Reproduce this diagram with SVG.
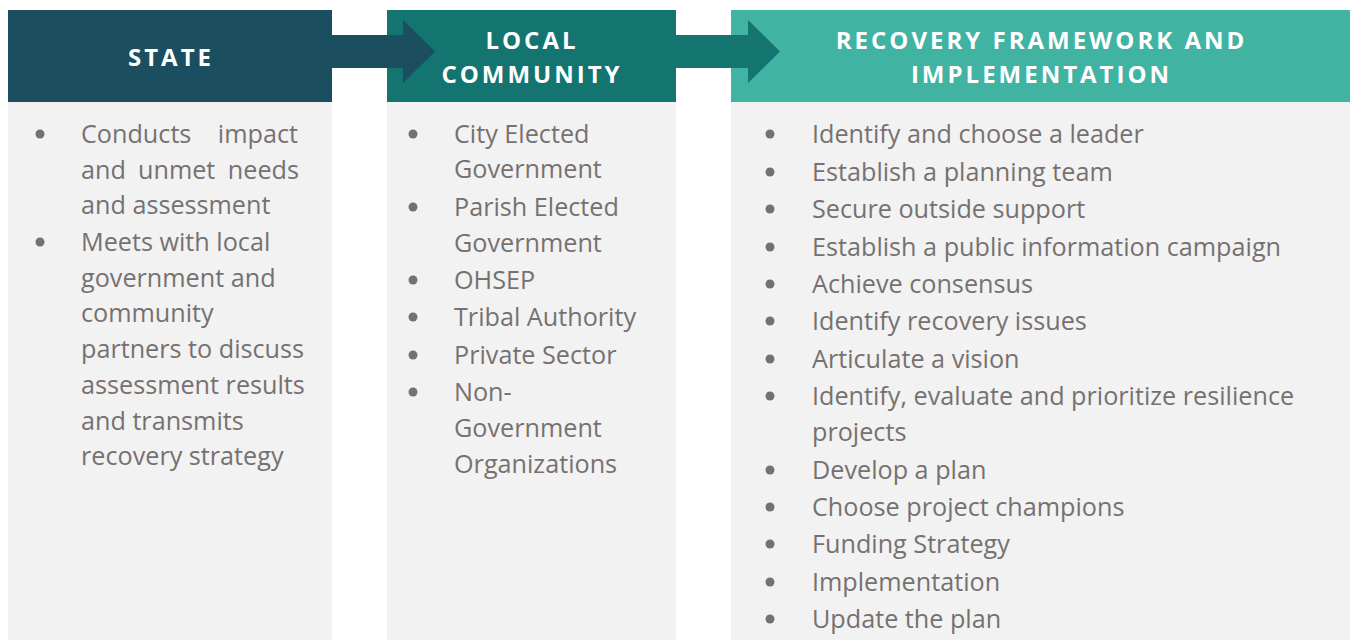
<svg xmlns="http://www.w3.org/2000/svg" width="1350" height="640" viewBox="0 0 1350 640">
<style>
.hd{font-family:"Open Sans","Liberation Sans",sans-serif;font-weight:bold;font-size:24px;fill:#ffffff;letter-spacing:3px;text-anchor:middle}
.tx{font-family:"Open Sans","Liberation Sans",sans-serif;font-size:25.2px;fill:#767171}
.bd{fill:#f2f2f2}
.bu{fill:#767171}
</style>
<rect width="1350" height="640" fill="#ffffff"/>
<g id="state">
<rect class="bd" x="8" y="102" width="324" height="538"/>
<rect x="8" y="10" width="324" height="92" fill="#1b4f5f"/>
<text class="hd" x="171" y="66">STATE</text>
<circle class="bu" cx="40" cy="134" r="4.5"/>
<circle class="bu" cx="40" cy="242" r="4.5"/>
<text class="tx" x="81" y="143">Conducts</text><text class="tx" x="298" y="143" text-anchor="end">impact</text>
<text class="tx" x="81" y="178.5">and</text><text class="tx" x="138" y="178.5">unmet</text><text class="tx" x="299" y="178.5" text-anchor="end">needs</text>
<text class="tx" x="81" y="214">and assessment</text>
<text class="tx" x="81" y="251">Meets with local</text>
<text class="tx" x="81" y="286.5">government and</text>
<text class="tx" x="81" y="322">community</text>
<text class="tx" x="81" y="358">partners to discuss</text>
<text class="tx" x="81" y="393.5">assessment results</text>
<text class="tx" x="81" y="429.5">and transmits</text>
<text class="tx" x="81" y="465">recovery strategy</text>
</g>
<g id="local">
<rect class="bd" x="387" y="102" width="289" height="538"/>
<rect x="387" y="10" width="289" height="92" fill="#137470"/>
<text class="hd" x="532" y="49">LOCAL</text>
<text class="hd" x="532" y="83">COMMUNITY</text>
<circle class="bu" cx="413" cy="134" r="4.5"/>
<circle class="bu" cx="413" cy="207" r="4.5"/>
<circle class="bu" cx="413" cy="280" r="4.5"/>
<circle class="bu" cx="413" cy="317" r="4.5"/>
<circle class="bu" cx="413" cy="355" r="4.5"/>
<circle class="bu" cx="413" cy="392" r="4.5"/>
<text class="tx" x="454" y="143">City Elected</text>
<text class="tx" x="454" y="178">Government</text>
<text class="tx" x="454" y="216">Parish Elected</text>
<text class="tx" x="454" y="252">Government</text>
<text class="tx" x="454" y="289">OHSEP</text>
<text class="tx" x="454" y="326">Tribal Authority</text>
<text class="tx" x="454" y="364">Private Sector</text>
<text class="tx" x="454" y="401">Non-</text>
<text class="tx" x="454" y="437">Government</text>
<text class="tx" x="454" y="473">Organizations</text>
</g>
<g id="recovery">
<rect class="bd" x="731" y="102" width="619" height="538"/>
<rect x="731" y="10" width="619" height="92" fill="#41b3a3"/>
<text class="hd" x="1041.5" y="49">RECOVERY FRAMEWORK AND</text>
<text class="hd" x="1041.5" y="83">IMPLEMENTATION</text>
<circle class="bu" cx="770" cy="134" r="4.5"/>
<circle class="bu" cx="770" cy="172" r="4.5"/>
<circle class="bu" cx="770" cy="209" r="4.5"/>
<circle class="bu" cx="770" cy="247" r="4.5"/>
<circle class="bu" cx="770" cy="284" r="4.5"/>
<circle class="bu" cx="770" cy="321" r="4.5"/>
<circle class="bu" cx="770" cy="359" r="4.5"/>
<circle class="bu" cx="770" cy="396" r="4.5"/>
<circle class="bu" cx="770" cy="470" r="4.5"/>
<circle class="bu" cx="770" cy="507" r="4.5"/>
<circle class="bu" cx="770" cy="544" r="4.5"/>
<circle class="bu" cx="770" cy="582" r="4.5"/>
<circle class="bu" cx="770" cy="619" r="4.5"/>
<text class="tx" x="812" y="142.5">Identify and choose a leader</text>
<text class="tx" x="812" y="180.5">Establish a planning team</text>
<text class="tx" x="812" y="217.5">Secure outside support</text>
<text class="tx" x="812" y="255.5">Establish a public information campaign</text>
<text class="tx" x="812" y="292.5">Achieve consensus</text>
<text class="tx" x="812" y="329.5">Identify recovery issues</text>
<text class="tx" x="812" y="367.5">Articulate a vision</text>
<text class="tx" x="812" y="404.5">Identify, evaluate and prioritize resilience</text>
<text class="tx" x="812" y="440.5">projects</text>
<text class="tx" x="812" y="478.5">Develop a plan</text>
<text class="tx" x="812" y="515.5">Choose project champions</text>
<text class="tx" x="812" y="552.5">Funding Strategy</text>
<text class="tx" x="812" y="590.5">Implementation</text>
<text class="tx" x="812" y="627.5">Update the plan</text>
</g>
<g id="connectors">
<polygon points="332,35 403,35 403,20 435,51.5 403,83 403,68 332,68" fill="#1b4f5f"/>
<polygon points="676,35 748,35 748,20 780,51.5 748,83 748,68 676,68" fill="#137470"/>
</g>
</svg>
